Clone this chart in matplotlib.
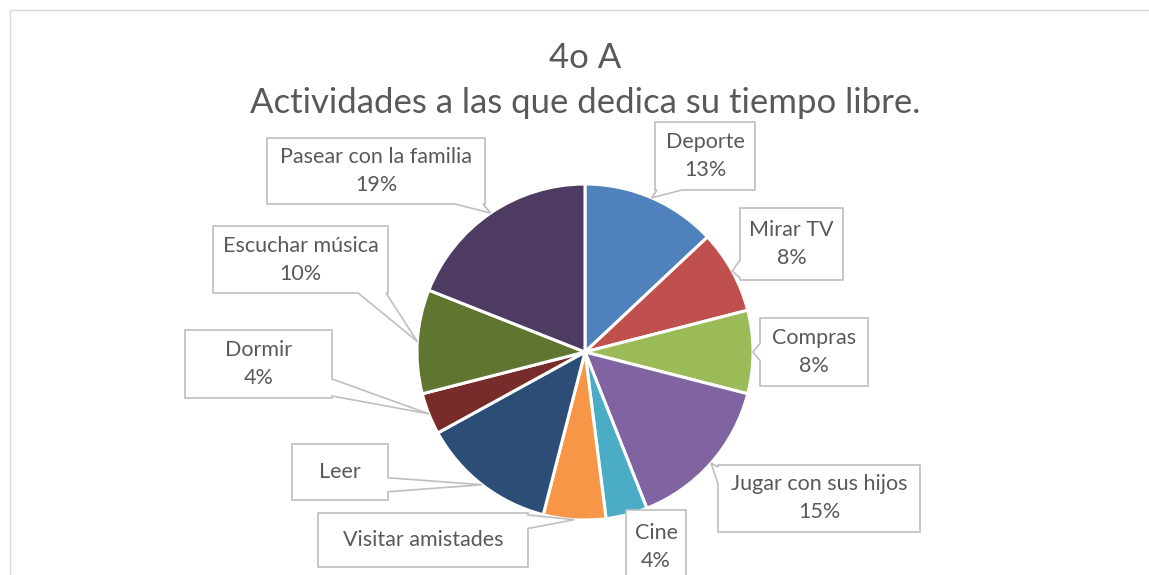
import matplotlib.pyplot as plt
from matplotlib.patches import Polygon, Rectangle
import numpy as np

plt.rcParams['font.family'] = ['Lato', 'DejaVu Sans']

# Data
labels = ["Deporte", "Mirar TV", "Compras", "Jugar con sus hijos", "Cine",
          "Visitar amistades", "Leer", "Dormir", "Escuchar música",
          "Pasear con la familia"]
values = [13, 8, 8, 15, 4, 6, 13, 4, 10, 19]
show_pct = [True, True, True, True, True, False, False, True, True, True]
colors = ["#4F81BD", "#C0504D", "#9BBB59", "#8064A2", "#4BACC6",
          "#F79646", "#2C4D75", "#772C2A", "#5F7530", "#4D3B62"]

# Layout of the callout boxes in pixels (left, top, right, bottom)
boxes = [(655, 122, 755, 190), (740, 208, 843, 280), (760, 318, 868, 386),
         (718, 465, 920, 532), (626, 510, 686, 590), (318, 513, 528, 567),
         (292, 444, 388, 500), (185, 330, 332, 398), (213, 226, 388, 293),
         (267, 138, 485, 204)]

W, H = 1149, 575
cx, cy, R = 585, 352, 168
text_col = "#595959"
line_col = "#BFBFBF"

fig = plt.figure(figsize=(W / 100, H / 100), dpi=100)
ax = fig.add_axes([0, 0, 1, 1])

ax.pie(values, colors=colors, startangle=90, counterclock=False,
       center=(cx, H - cy), radius=R,
       wedgeprops=dict(edgecolor="white", linewidth=2.2))
ax.set_xlim(0, W)
ax.set_ylim(0, H)
ax.axis("off")

# chart frame
ax.add_patch(Rectangle((10, -20), W + 20, H - 10 + 20, fill=False,
                       ec="#D9D9D9", lw=1, zorder=0))


def callout(box, anchor):
    l, t, r, b = box
    axp, ayp = anchor
    corners = [(l, t), (r, t), (r, b), (l, b)]
    out_x = max(l - axp, axp - r, 0)
    out_y = max(t - ayp, ayp - b, 0)
    if out_x == 0 and out_y == 0:
        return [(x, H - y) for x, y in corners]
    if out_y >= out_x:
        k = 2 if ayp > b else 0
    else:
        k = 1 if axp > r else 3
    pts = []
    for i in range(4):
        p0 = np.array(corners[i], float)
        pts.append(tuple(p0))
        if i == k:
            p1 = np.array(corners[(i + 1) % 4], float)
            L = np.linalg.norm(p1 - p0)
            u = (p1 - p0) / L
            w = min(28, 0.25 * L)
            s = np.dot(np.array(anchor) - p0, u)
            s = np.clip(s, w / 2 + 2, L - w / 2 - 2)
            pts.append(tuple(p0 + u * (s - w / 2)))
            pts.append((axp, ayp))
            pts.append(tuple(p0 + u * (s + w / 2)))
    return [(x, H - y) for x, y in pts]


total = sum(values)
cum = 0
for lab, v, sp, box in zip(labels, values, show_pct, boxes):
    mid = (cum + v / 2) / total * 360
    cum += v
    ang = np.deg2rad(mid)
    anchor = (cx + R * np.sin(ang), cy - R * np.cos(ang))
    ax.add_patch(Polygon(callout(box, anchor), closed=True, fc="white",
                         ec=line_col, lw=1.2, zorder=4))
    txt = f"{lab}\n{round(v / total * 100)}%" if sp else lab
    bx = (box[0] + box[2]) / 2
    by = (box[1] + box[3]) / 2
    if box[3] > H:
        by = box[1] + 37
    ax.text(bx, H - by, txt, ha="center", va="center", multialignment="center",
            fontsize=15.5, color=text_col, linespacing=1.5, zorder=5)

fig.text(585 / W, 1 - 58 / H, "4o A", ha="center", va="center",
         fontsize=25, color=text_col)
fig.text(585 / W, 1 - 103 / H, "Actividades a las que dedica su tiempo libre.",
         ha="center", va="center", fontsize=25, color=text_col)

fig.savefig("out.png", dpi=100)
